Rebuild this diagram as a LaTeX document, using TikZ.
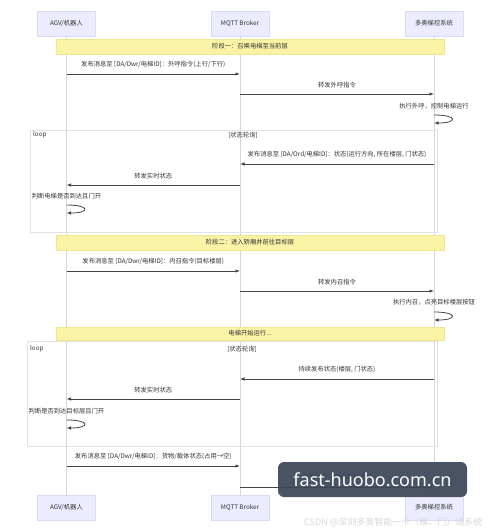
\documentclass[tikz,border=0pt]{standalone}
\usepackage{fontspec}
\setmainfont{Noto Sans CJK SC}
\newfontfamily\wmfont{Noto Sans}
\usetikzlibrary{arrows.meta}
\definecolor{actfill}{HTML}{ECECFF}
\definecolor{actdraw}{HTML}{DADAF2}
\definecolor{notefill}{HTML}{FAF3A6}
\definecolor{notedraw}{HTML}{EFE790}
\definecolor{lifec}{HTML}{D6D6D6}
\definecolor{msgc}{HTML}{444444}
\definecolor{txtc}{HTML}{333333}
\definecolor{framec}{HTML}{E3E3E3}
\definecolor{wmfill}{HTML}{3D4759}
\definecolor{csdnc}{HTML}{D8D8D8}
\begin{document}
\begin{tikzpicture}[x=1pt,y=-1pt,
  actor/.style={draw=actdraw,fill=actfill,minimum width=58pt,minimum height=25pt,inner sep=0pt,font=\fontsize{6.3}{7}\selectfont,text=txtc},
  notebox/.style={draw=notedraw,fill=notefill,minimum width=388pt,inner sep=0pt,font=\fontsize{6.3}{7}\selectfont,text=txtc},
  msg/.style={draw=msgc,line width=0.8pt,-{Latex[length=4.5pt,width=3.5pt]}},
  lbl/.style={font=\fontsize{6.3}{7}\selectfont,text=txtc,inner sep=0pt},
  life/.style={draw=lifec,line width=0.7pt},
  loopframe/.style={draw=framec,line width=0.7pt},
]
\useasboundingbox[fill=white] (0,0) rectangle (500,531);

% actors
\node[actor] (aT) at (66.5,23.5) {AGV/机器人};
\node[actor] (bT) at (240,23.5) {MQTT Broker};
\node[actor] (cT) at (434,23.5) {多奥梯控系统};
\node[actor] (aB) at (66.5,507.5) {AGV/机器人};
\node[actor] (bB) at (240,507.5) {MQTT Broker};
\node[actor] (cB) at (434,507.5) {多奥梯控系统};

% lifelines
\draw[life] (aT.south) -- (aB.north);
\draw[life] (bT.south) -- (bB.north);
\draw[life] (cT.south) -- (cB.north);

% loop frames
\draw[loopframe] (30,130) rectangle (437,232);
\node[lbl,anchor=west] (lp1) at (33,135) {loop};
\node[lbl] (lc1) at (243,135) {[状态轮询]};
\draw[loopframe] (27,341) rectangle (437,446);
\node[lbl,anchor=west] (lp2) at (30,349) {loop};
\node[lbl] (lc2) at (242,349) {[状态轮询]};

% notes
\node[notebox,minimum height=15pt] (n1) at (250,46.5) {阶段一：召唤电梯至当前层};
\node[notebox,minimum height=15pt] (n2) at (250,242.5) {阶段二：进入轿厢并前往目标层};
\node[notebox,minimum height=13pt] (n3) at (250,333.5) {电梯开始运行...};

% coordinates on lifelines
\coordinate (m1s) at (66.5,74);  \coordinate (m1e) at (240,74);
\coordinate (m2s) at (240,94);   \coordinate (m2e) at (434,94);
\coordinate (s1a) at (434,115);  \coordinate (s1b) at (434,123);
\coordinate (m3s) at (434,164);  \coordinate (m3e) at (240,164);
\coordinate (m4s) at (240,185);  \coordinate (m4e) at (66.5,185);
\coordinate (s2a) at (66.5,205); \coordinate (s2b) at (66.5,213);
\coordinate (m5s) at (66.5,271); \coordinate (m5e) at (240,271);
\coordinate (m6s) at (240,291);  \coordinate (m6e) at (434,291);
\coordinate (s3a) at (434,312);  \coordinate (s3b) at (434,320);
\coordinate (m7s) at (434,379);  \coordinate (m7e) at (240,379);
\coordinate (m8s) at (240,399);  \coordinate (m8e) at (66.5,399);
\coordinate (s4a) at (66.5,420); \coordinate (s4b) at (66.5,428);
\coordinate (m9s) at (66.5,466); \coordinate (m9e) at (240,466);
\coordinate (m10s) at (240,487); \coordinate (m10e) at (434,487);

% messages
\draw[msg] (m1s) -- node[lbl,midway,above=6pt] {发布消息至 [DA/Dwr/电梯ID]：外呼指令(上行/下行)} (m1e);
\draw[msg] (m2s) -- node[lbl,midway,above=6pt] {转发外呼指令} (m2e);
\node[lbl] (t1) at (434,106) {执行外呼，控制电梯运行};
\draw[msg] (s1a) .. controls +(24,0) and +(24,0) .. (s1b);

\draw[msg] (m3s) -- node[lbl,midway,above=6pt] {发布消息至 [DA/Ord/电梯ID]：状态(运行方向, 所在楼层, 门状态)} (m3e);
\draw[msg] (m4s) -- node[lbl,midway,above=6pt] {转发实时状态} (m4e);
\node[lbl] (t2) at (66.5,196) {判断电梯是否到达且门开};
\draw[msg] (s2a) .. controls +(24,0) and +(24,0) .. (s2b);

\draw[msg] (m5s) -- node[lbl,midway,above=6pt] {发布消息至 [DA/Dwr/电梯ID]：内召指令(目标楼层)} (m5e);
\draw[msg] (m6s) -- node[lbl,midway,above=6pt] {转发内召指令} (m6e);
\node[lbl] (t3) at (434,302) {执行内召，点亮目标楼层按钮};
\draw[msg] (s3a) .. controls +(24,0) and +(24,0) .. (s3b);

\draw[msg] (m7s) -- node[lbl,midway,above=6pt] {持续发布状态(楼层, 门状态)} (m7e);
\draw[msg] (m8s) -- node[lbl,midway,above=6pt] {转发实时状态} (m8e);
\node[lbl] (t4) at (66.5,411) {判断是否到达目标层且门开};
\draw[msg] (s4a) .. controls +(24,0) and +(24,0) .. (s4b);

\draw[msg] (m9s) -- node[lbl,midway,above=6pt] {发布消息至 [DA/Dwr/电梯ID]：货物/载体状态(占用→空)} (m9e);
\draw[msg] (m10s) -- node[lbl,midway,above=6pt] {转发状态，释放电梯占用} (m10e);

% watermarks
\node[fill=wmfill,fill opacity=0.93,text opacity=1,rounded corners=6pt,minimum width=189pt,minimum height=35pt,inner sep=0pt,text=white,font=\wmfont\fontsize{18}{21}\selectfont] (wm) at (372.5,479.5) {fast-huobo.com.cn};
\node[text=csdnc,inner sep=0pt,anchor=west,font=\fontsize{9}{10}\selectfont] (csdn) at (304,522) {CSDN @深圳多奥智能一卡（梯、门）通系统};
\end{tikzpicture}
\end{document}
